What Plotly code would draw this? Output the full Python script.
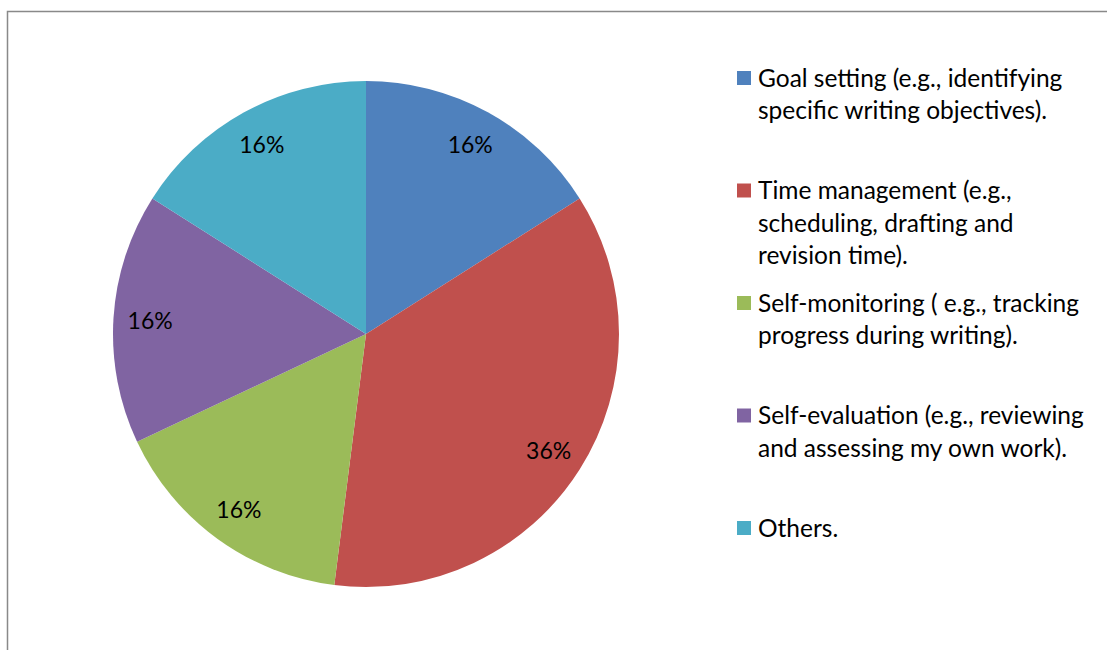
import plotly.graph_objects as go

# Share of respondents by self-regulation strategy
categories = [
    "Goal setting (e.g., identifying specific writing objectives).",
    "Time management (e.g., scheduling, drafting and revision time).",
    "Self-monitoring ( e.g., tracking progress during writing).",
    "Self-evaluation (e.g., reviewing and assessing my own work).",
    "Others.",
]
shares = [16, 36, 16, 16, 16]
colors = ["#4F81BD", "#C0504D", "#9BBB59", "#8064A2", "#4BACC6"]

# Wrapped legend text, one list of lines per category
legend_lines = [
    ["Goal setting (e.g., identifying", "specific writing objectives)."],
    ["Time management (e.g.,", "scheduling, drafting and", "revision time)."],
    ["Self-monitoring ( e.g., tracking", "progress during writing)."],
    ["Self-evaluation (e.g., reviewing", "and assessing my own work)."],
    ["Others."],
]

W, H = 1107, 650
FONT = "Lato, 'Open Sans', sans-serif"
pie_domain = dict(x=[113 / W, 619 / W], y=[1 - 587 / H, 1 - 81 / H])

fig = go.Figure()

# Filled pie without text
fig.add_trace(go.Pie(
    labels=categories,
    values=shares,
    sort=False,
    direction="clockwise",
    rotation=0,
    marker=dict(colors=colors, line=dict(width=0)),
    textinfo="none",
    domain=pie_domain,
    showlegend=False,
    hoverinfo="label+percent",
))

# Transparent ring on top that carries the percentage labels near the rim
fig.add_trace(go.Pie(
    labels=categories,
    values=shares,
    sort=False,
    direction="clockwise",
    rotation=0,
    hole=0.71,
    marker=dict(colors=["rgba(0,0,0,0)"] * len(shares), line=dict(width=0)),
    texttemplate="%{percent:.0%}",
    textposition="inside",
    insidetextorientation="horizontal",
    textfont=dict(family=FONT, size=23, color="#000000"),
    domain=pie_domain,
    showlegend=False,
    hoverinfo="skip",
))

# Custom legend: colour squares with wrapped labels beside them
annotations = []
shapes = []
entry_top = 77
entry_step = 112.5
line_step = 32.5
sq = 14
for i, lines in enumerate(legend_lines):
    y0 = entry_top + i * entry_step
    shapes.append(dict(
        type="rect", xref="paper", yref="paper",
        x0=737 / W, x1=(737 + sq) / W,
        y0=1 - (y0 + 1 + sq / 2) / H, y1=1 - (y0 + 1 - sq / 2) / H,
        fillcolor=colors[i], line=dict(width=0),
    ))
    for j, txt in enumerate(lines):
        annotations.append(dict(
            text=txt, xref="paper", yref="paper",
            x=756 / W, y=1 - (y0 + j * line_step) / H,
            xanchor="left", yanchor="middle", showarrow=False,
            font=dict(family=FONT, size=24.5, color="#000000"),
        ))

# Chart-area frame (top and left edges visible)
shapes.append(dict(
    type="rect", xref="paper", yref="paper",
    x0=7.5 / W, x1=1.02, y0=-0.02, y1=1 - 11.5 / H,
    line=dict(color="#898989", width=1.5), fillcolor="rgba(0,0,0,0)",
))

fig.update_layout(
    width=W, height=H,
    margin=dict(l=0, r=0, t=0, b=0),
    paper_bgcolor="white", plot_bgcolor="white",
    annotations=annotations, shapes=shapes,
    font=dict(family=FONT),
)

fig.write_html("out.html")
